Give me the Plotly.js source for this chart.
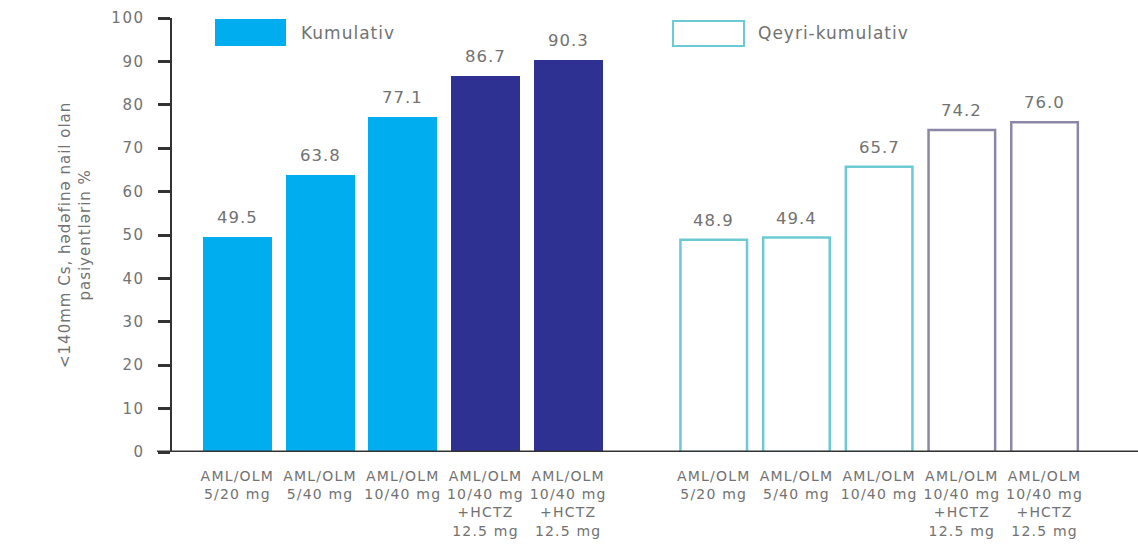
<!DOCTYPE html>
<html>
<head>
<meta charset="utf-8">
<script src="https://cdn.plot.ly/plotly-3.0.1.min.js"></script>
<style>
  html, body { margin: 0; padding: 0; background: #ffffff; }
  #chart { width: 1138px; height: 549px; }
  /* slightly airy lettering for the chart text */
  .xtick text { letter-spacing: 1.2px; }
  .ytick text { letter-spacing: 1.5px; }
  text.annotation-text { letter-spacing: 1px; }
</style>
</head>
<body>
<div id="chart"></div>
<script>
// Dose steps shown under each bar
const categories = [
  'AML/OLM<br>5/20 mg',
  'AML/OLM<br>5/40 mg',
  'AML/OLM<br>10/40 mg',
  'AML/OLM<br>10/40 mg<br>+HCTZ<br>12.5 mg',
  'AML/OLM<br>10/40 mg<br>+HCTZ<br>12.5 mg'
];

// Share of patients reaching the target, %
const kumulativ = [49.5, 63.8, 77.1, 86.7, 90.3];
const qeyriKumulativ = [48.9, 49.4, 65.7, 74.2, 76.0];

const seriesNames = ['Kumulativ', 'Qeyri-kumulativ'];
const yTicks = [0, 10, 20, 30, 40, 50, 60, 70, 80, 90, 100];
const yTitle = '<140mm Cs, hədəfinə nail olan<br>pasiyentlərin %';

// ---- styling / layout ----
const W = 1138, H = 549;
const M = { l: 172, r: 0, t: 18, b: 97 };
const PW = W - M.l - M.r, PH = H - M.t - M.b;
const FONT = 'DejaVu Sans, Verdana, sans-serif';
const TEXT = '#727272';
const LIGHT = '#00AEEF', DARK = '#2E3192';
const TEAL = '#6CCAD4', GREYPURPLE = '#8B87A6';
const groupOffset = 5.76;      // second group starts after a gap
const barWidth = 0.835;

// pixel -> paper helpers for the legend boxes, axis title and axis extension
const px = x => (x - M.l) / PW;
const py = y => (H - M.b - y) / PH;

const xLeft = categories.map((_, i) => i);
const xRight = categories.map((_, i) => i + groupOffset);

const traces = [
  {
    type: 'bar', name: seriesNames[0],
    x: xLeft, y: kumulativ, width: barWidth,
    marker: { color: [LIGHT, LIGHT, LIGHT, DARK, DARK], line: { width: 0 } },
    hoverinfo: 'y', showlegend: false
  },
  {
    type: 'bar', name: seriesNames[1],
    x: xRight, y: qeyriKumulativ, width: barWidth - 0.03,
    marker: {
      color: '#ffffff',
      line: { color: [TEAL, TEAL, TEAL, GREYPURPLE, GREYPURPLE], width: 2.5 }
    },
    hoverinfo: 'y', showlegend: false
  }
];

const valueLabels = [];
kumulativ.forEach((v, i) => valueLabels.push({ x: xLeft[i], y: v }));
qeyriKumulativ.forEach((v, i) => valueLabels.push({ x: xRight[i], y: v }));

const annotations = valueLabels.map(p => ({
  x: p.x, y: p.y, xref: 'x', yref: 'y',
  text: p.y.toFixed(1), showarrow: false,
  yanchor: 'bottom', yshift: 8,
  font: { family: FONT, size: 16.5, color: TEXT }
}));

// legend texts
annotations.push(
  { xref: 'paper', yref: 'paper', x: px(299), y: py(33), xanchor: 'left', yanchor: 'middle',
    text: seriesNames[0], showarrow: false, font: { family: FONT, size: 17, color: TEXT } },
  { xref: 'paper', yref: 'paper', x: px(756), y: py(33), xanchor: 'left', yanchor: 'middle',
    text: seriesNames[1], showarrow: false, font: { family: FONT, size: 17, color: TEXT } }
);

// y axis title
annotations.push({
  xref: 'paper', yref: 'paper', x: px(75), y: 0.5,
  xanchor: 'center', yanchor: 'middle', textangle: -90,
  text: yTitle, showarrow: false,
  font: { family: FONT, size: 15, color: TEXT }
});

const shapes = [
  // legend swatches
  { type: 'rect', xref: 'paper', yref: 'paper', x0: px(215), x1: px(286), y0: py(46), y1: py(19),
    fillcolor: LIGHT, line: { width: 0 } },
  { type: 'rect', xref: 'paper', yref: 'paper', x0: px(673), x1: px(744), y0: py(46), y1: py(21),
    fillcolor: '#ffffff', line: { color: TEAL, width: 2 } },
  // baseline running past the y axis
  { type: 'line', xref: 'paper', yref: 'y', x0: px(157), x1: 1, y0: 0, y1: 0,
    line: { color: '#333333', width: 3 } }
];

const layout = {
  width: W, height: H,
  margin: M,
  paper_bgcolor: '#ffffff', plot_bgcolor: '#ffffff',
  bargap: 0,
  showlegend: false,
  xaxis: {
    range: [-0.79, 10.89],
    tickvals: xLeft.concat(xRight),
    ticktext: categories.concat(categories),
    showline: false, showgrid: false, zeroline: false,
    ticks: '',
    ticklabelstandoff: 14,
    tickfont: { family: FONT, size: 14, color: TEXT },
    fixedrange: true
  },
  yaxis: {
    range: [0, 100],
    tickvals: yTicks,
    showgrid: false, zeroline: false,
    showline: true, linecolor: '#333333', linewidth: 2.5,
    ticks: 'outside', ticklen: 12, tickwidth: 3, tickcolor: '#333333',
    ticklabelstandoff: 10,
    tickfont: { family: FONT, size: 15, color: TEXT },
    fixedrange: true
  },
  annotations: annotations,
  shapes: shapes
};

Plotly.newPlot('chart', traces, layout, { displayModeBar: false, staticPlot: true });
</script>
</body>
</html>
